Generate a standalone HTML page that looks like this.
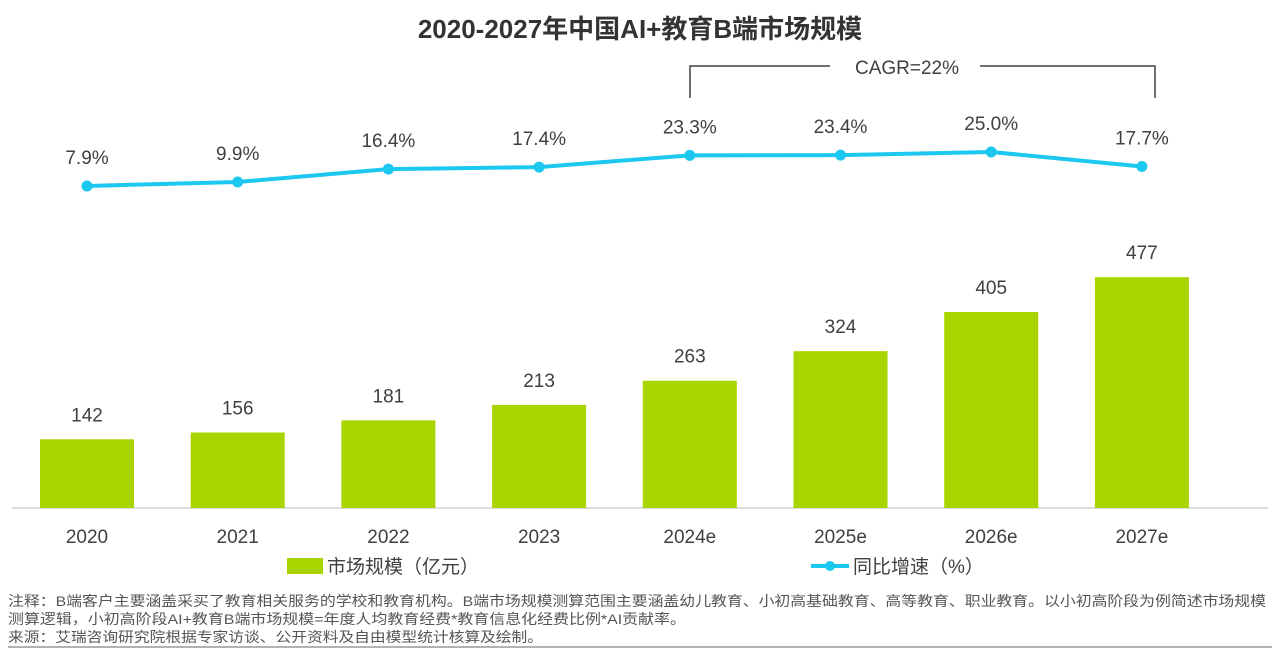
<!DOCTYPE html>
<html><head><meta charset="utf-8"><style>
body{margin:0;background:#fff;width:1280px;height:652px;overflow:hidden;font-family:"Liberation Sans","Noto Sans CJK SC",sans-serif}
svg text{font-family:"Liberation Sans","Noto Sans CJK SC",sans-serif}
</style></head><body>
<svg id="chart" width="1280" height="652" viewBox="0 0 1280 652" xmlns="http://www.w3.org/2000/svg">
<text x="640" y="38" text-anchor="middle" font-size="26" font-weight="bold" fill="#333">2020-2027年中国AI+教育B端市场规模</text>
<g stroke="#404040" stroke-width="1.5" fill="none">
<polyline points="690,98 690,66 830,66"/><polyline points="980,66 1155,66 1155,98"/>
</g>
<text x="907" y="74" text-anchor="middle" font-size="19" fill="#404040">CAGR=22%</text>
<line x1="12" y1="508" x2="1268" y2="508" stroke="#bbb" stroke-width="1"/>
<g id="bars"></g><g id="line"></g><g id="xlabels"></g>
<g>
<rect x="287" y="558" width="36" height="16" fill="#A8D400"/>
<text x="327" y="573" font-size="19" fill="#404040">市场规模（亿元）</text>
<line x1="811" y1="566" x2="849" y2="566" stroke="#1CC8F0" stroke-width="4"/>
<circle cx="830" cy="566" r="5" fill="#1CC8F0"/>
<text x="853" y="573" font-size="19" fill="#404040">同比增速（%）</text>
</g>
<text font-size="14" fill="#555">
<tspan x="8" y="606" textLength="1258" lengthAdjust="spacingAndGlyphs">注释：B端客户主要涵盖采买了教育相关服务的学校和教育机构。B端市场规模测算范围主要涵盖幼儿教育、小初高基础教育、高等教育、职业教育。以小初高阶段为例简述市场规模</tspan>
<tspan x="8" y="624" textLength="678" lengthAdjust="spacingAndGlyphs">测算逻辑，小初高阶段AI+教育B端市场规模=年度人均教育经费*教育信息化经费比例*AI贡献率。</tspan>
<tspan x="8" y="642" textLength="535" lengthAdjust="spacingAndGlyphs">来源：艾瑞咨询研究院根据专家访谈、公开资料及自由模型统计核算及绘制。</tspan>
</text>
<line x1="8" y1="647" x2="1272" y2="647" stroke="#999" stroke-width="1.5"/>
</svg>
<script>
const categories=["2020","2021","2022","2023","2024e","2025e","2026e","2027e"];
const marketSize=[142,156,181,213,263,324,405,477];
const growthRate=[7.9,9.9,16.4,17.4,23.3,23.4,25.0,17.7];
const NS="http://www.w3.org/2000/svg";
const xC=i=>87+i*150.7;
const yBar=v=>508-v*0.484;
const yLine=v=>201.7-v*1.99;
function mk(tag,attrs,parent){const e=document.createElementNS(NS,tag);for(const k in attrs)e.setAttribute(k,attrs[k]);parent.appendChild(e);return e;}
const bars=document.getElementById('bars'),line=document.getElementById('line'),xl=document.getElementById('xlabels');
categories.forEach((c,i)=>{
 const v=marketSize[i];
 const r=mk('rect',{x:xC(i)-47,y:yBar(v),width:94,height:508-yBar(v),fill:'#A8D400'},bars);
 
 
 const t=mk('text',{x:xC(i),y:yBar(v)-18,'text-anchor':'middle','font-size':19,fill:'#404040'},bars);t.textContent=v;
 
 
 const x=mk('text',{x:xC(i),y:543,'text-anchor':'middle','font-size':19,fill:'#404040'},xl);x.textContent=c;
 
 
});
const pl=mk('polyline',{points:growthRate.map((v,i)=>xC(i)+','+yLine(v)).join(' '),fill:'none',stroke:'#1CC8F0','stroke-width':4},line);


growthRate.forEach((v,i)=>{
 const c=mk('circle',{cx:xC(i),cy:yLine(v),r:5.5,fill:'#1CC8F0'},line);
 
 
 const t=mk('text',{x:xC(i),y:yLine(v)-22,'text-anchor':'middle','font-size':19,fill:'#404040'},line);t.textContent=v.toFixed(1)+'%';
 
 
});
</script>
</body></html>
